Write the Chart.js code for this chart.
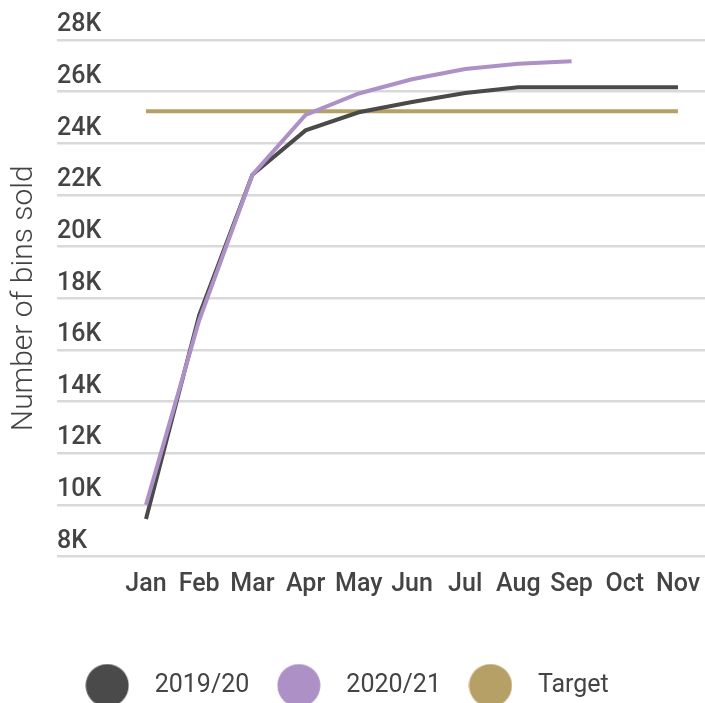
<!DOCTYPE html>
<html lang="en">
<head>
  <meta charset="UTF-8">
  <title>Bins sold</title>
  <script src="https://cdn.jsdelivr.net/npm/chart.js"></script>
  <style>
    body {
      margin: 0;
      padding: 0;
      background-color: #fff;
      overflow: hidden;
    }
    #chartContainer {
      position: relative;
      width: 705px;
      height: 708px;
    }
  </style>
</head>
<body>
  <div id="chartContainer">
    <canvas id="binsChart"></canvas>
  </div>

  <script>
    const meses = ['Jan', 'Feb', 'Mar', 'Apr', 'May', 'Jun', 'Jul', 'Aug', 'Sep', 'Oct', 'Nov'];
    const vendas1920 = [9450, 17350, 22780, 24500, 25200, 25600, 25950, 26170, 26170, 26170, 26170];
    const vendas2021 = [10000, 17150, 22780, 25100, 25930, 26480, 26880, 27080, 27180];
    const meta = [25240, 25240, 25240, 25240, 25240, 25240, 25240, 25240, 25240, 25240, 25240];
    const eixoY = { min: 8000, max: 28000, passo: 2000 };

    const corTexto = '#444444';

    function pontos(valores) {
      return valores.map((v, i) => ({ x: i, y: v }));
    }

    // circulo maior para a legenda
    function bolinha(cor) {
      let c = document.createElement('canvas');
      c.width = 44;
      c.height = 44;
      let g = c.getContext('2d');
      g.fillStyle = cor;
      g.beginPath();
      g.arc(22, 22, 21.5, 0, Math.PI * 2);
      g.fill();
      return c;
    }

    // legenda um pouco deslocada para a esquerda, como no original
    const deslocaLegenda = {
      id: 'deslocaLegenda',
      afterLayout(chart) {
        chart.legend.left -= 12;
        chart.legend.right -= 12;
      }
    };

    let ctx = document.getElementById('binsChart').getContext('2d');
    let chart = new Chart(ctx, {
      type: 'line',
      data: {
        datasets: [{
          label: '2019/20',
          data: pontos(vendas1920),
          borderColor: '#4a4a4a',
          backgroundColor: '#4a4a4a',
          order: 1
        },
        {
          label: '2020/21',
          data: pontos(vendas2021),
          borderColor: '#ad90c6',
          backgroundColor: '#ad90c6',
          order: 0
        },
        {
          label: 'Target',
          data: pontos(meta),
          borderColor: '#b6a065',
          backgroundColor: '#b6a065',
          order: 2
        }]
      },
      plugins: [deslocaLegenda],
      options: {
        responsive: true,
        maintainAspectRatio: false,
        animation: false,
        devicePixelRatio: 1,
        layout: {
          padding: { top: 40, left: 0, right: 0, bottom: 0 }
        },
        elements: {
          line: { borderWidth: 4, tension: 0, borderCapStyle: 'butt' },
          point: { radius: 0, hoverRadius: 0 }
        },
        scales: {
          x: {
            type: 'linear',
            min: -1.673,
            max: 10.508,
            grid: { display: false, drawTicks: false },
            border: { display: false },
            ticks: {
              stepSize: 1,
              includeBounds: false,
              autoSkip: false,
              maxRotation: 0,
              padding: 13,
              color: corTexto,
              font: { family: 'Roboto', size: 25, weight: 500 },
              callback: function(value) {
                return Number.isInteger(value) && meses[value] ? meses[value] : '';
              }
            },
            afterFit: function(scale) {
              scale.height = 102;
              scale.paddingLeft = 0;
              scale.paddingRight = 0;
            }
          },
          y: {
            min: eixoY.min,
            max: eixoY.max,
            grid: { color: '#d9d9d9', lineWidth: 2.5, drawTicks: false },
            border: { display: false },
            ticks: {
              stepSize: eixoY.passo,
              mirror: true,
              padding: 0,
              labelOffset: -15,
              color: corTexto,
              font: { family: 'Roboto', size: 25, weight: 500 },
              callback: function(value) {
                return (value / 1000) + 'K';
              }
            },
            title: {
              display: true,
              text: 'Number of bins sold',
              color: corTexto,
              font: { family: 'Roboto', size: 30, weight: 300 },
              padding: { top: 6, bottom: 0 }
            },
            afterFit: function(scale) {
              scale.width = 57;
            }
          }
        },
        plugins: {
          tooltip: { enabled: false },
          legend: {
            position: 'bottom',
            labels: {
              usePointStyle: true,
              pointStyleWidth: 70,
              padding: 14.5,
              color: corTexto,
              font: { family: 'Roboto', size: 25, weight: 400 },
              sort: (a, b) => a.datasetIndex - b.datasetIndex,
              generateLabels: function(chart) {
                let itens = Chart.defaults.plugins.legend.labels.generateLabels(chart);
                itens.forEach(item => {
                  item.pointStyle = bolinha(item.fillStyle);
                  item.lineWidth = 0;
                });
                return itens;
              }
            }
          }
        }
      }
    });
  </script>
</body>
</html>
